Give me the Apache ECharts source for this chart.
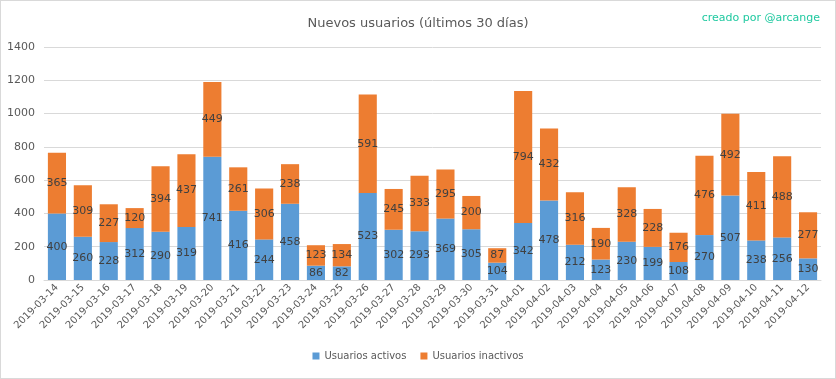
<!DOCTYPE html>
<html><head><meta charset="utf-8">
<script src="https://cdn.jsdelivr.net/npm/echarts@6/dist/echarts.min.js"></script>
<style>html,body{margin:0;padding:0;background:#fff}#c{width:836px;height:379px;box-sizing:border-box;border:1px solid #d9d9d9}</style>
</head><body><div id="c"></div>
<script>
const categories = ["2019-03-14","2019-03-15","2019-03-16","2019-03-17","2019-03-18","2019-03-19","2019-03-20","2019-03-21","2019-03-22","2019-03-23","2019-03-24","2019-03-25","2019-03-26","2019-03-27","2019-03-28","2019-03-29","2019-03-30","2019-03-31","2019-04-01","2019-04-02","2019-04-03","2019-04-04","2019-04-05","2019-04-06","2019-04-07","2019-04-08","2019-04-09","2019-04-10","2019-04-11","2019-04-12"];
const activos = [400,260,228,312,290,319,741,416,244,458,86,82,523,302,293,369,305,104,342,478,212,123,230,199,108,270,507,238,256,130];
const inactivos = [365,309,227,120,394,437,449,261,306,238,123,134,591,245,333,295,200,87,794,432,316,190,328,228,176,476,492,411,488,277];
const yTicks = [0,200,400,600,800,1000,1200,1400];
const seriesNames = ["Usuarios activos","Usuarios inactivos"];

const chart = echarts.init(document.getElementById('c'));
const lbl = {show:true, position:'inside', color:'#404040', fontSize:11, fontFamily:'DejaVu Sans'};
chart.setOption({
  animation:false,
  textStyle:{fontFamily:'DejaVu Sans'},
  title:[{text:'Nuevos usuarios (últimos 30 días)', left:'center', top:11,
    textStyle:{fontSize:13, fontWeight:'normal', color:'#595959'}},
    {text:'creado por @arcange', right:10, top:7,
    textStyle:{fontSize:11, fontWeight:'normal', color:'#1fc9a0'}}],
  legend:{bottom:12, itemWidth:7, itemHeight:7, itemGap:14, icon:'rect',
    textStyle:{fontSize:10, color:'#595959'}, data:seriesNames},
  grid:{left:43, right:14, top:46, bottom:98},
  xAxis:{type:'category', data:categories,
    axisLine:{lineStyle:{color:'#d9d9d9'}}, axisTick:{show:false},
    axisLabel:{rotate:45, color:'#595959', fontSize:10, interval:0, margin:6}},
  yAxis:{type:'value', min:yTicks[0], max:yTicks[yTicks.length-1], interval:200,
    axisLine:{show:false}, axisTick:{show:false},
    axisLabel:{color:'#595959', fontSize:11, margin:9, formatter:v=>String(v)},
    splitLine:{lineStyle:{color:'#d9d9d9'}}},
  series:[
    {name:seriesNames[0], type:'bar', stack:'a', data:activos, barCategoryGap:'30%',
      itemStyle:{color:'#5B9BD5'}, label:lbl},
    {name:seriesNames[1], type:'bar', stack:'a', data:inactivos,
      itemStyle:{color:'#ED7D31'}, label:lbl}
  ]
});
</script></body></html>
